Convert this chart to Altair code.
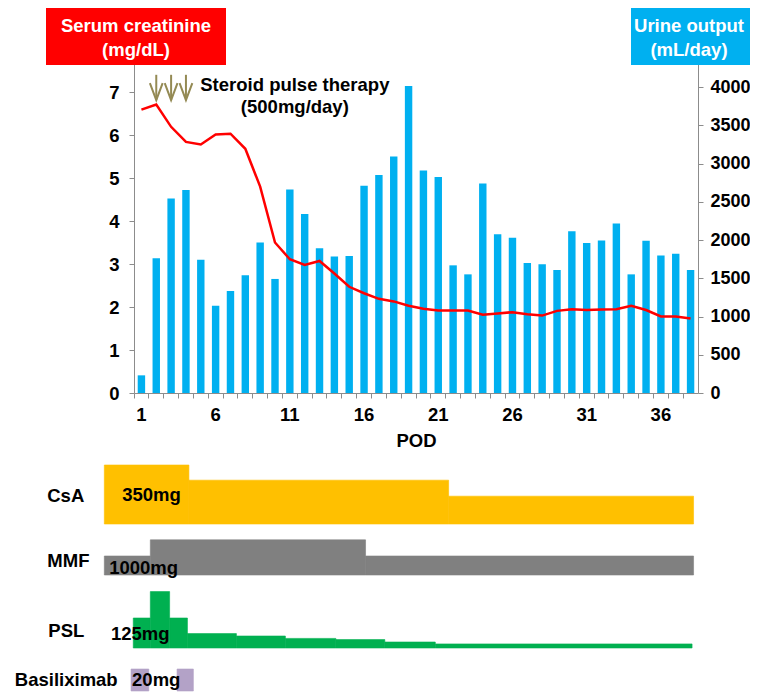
import altair as alt
import pandas as pd

# ---------------- data ----------------
pod = list(range(1, 39))
urine = [231, 1762, 2544, 2654, 1744, 1140, 1335, 1540, 1970, 1492,
         2663, 2341, 1892, 1784, 1792, 2711, 2853, 3093, 4015, 2910,
         2826, 1670, 1552, 2739, 2078, 2030, 1700, 1683, 1609, 2117,
         1961, 1996, 2217, 1552, 1991, 1800, 1822, 1609]
creat = [6.59, 6.71, 6.19, 5.84, 5.78, 6.01, 6.03, 5.68, 4.80, 3.50,
         3.11, 2.98, 3.07, 2.78, 2.47, 2.32, 2.19, 2.13, 2.03, 1.96,
         1.92, 1.92, 1.92, 1.82, 1.85, 1.88, 1.83, 1.80, 1.91, 1.95,
         1.93, 1.94, 1.95, 2.03, 1.93, 1.78, 1.78, 1.73]
x_label_values = [1, 6, 11, 16, 21, 26, 31, 36]
left_ticks = [0, 1, 2, 3, 4, 5, 6, 7]
right_ticks = [0, 500, 1000, 1500, 2000, 2500, 3000, 3500, 4000]
pulse_days = [2, 3, 4]

# drug timelines (day start, day end, relative dose level)
csa_start = [-1.5, 4.2, 21.7]
csa_end = [4.2, 21.7, 38.2]
csa_level = [350, 260, 165]
mmf_start = [-1.5, 1.6, 16.1]
mmf_end = [1.6, 16.1, 38.2]
mmf_level = [1000, 1850, 1000]
psl_start = [0.45, 1.6, 2.9, 4.1, 7.4, 10.7, 14.1, 17.4, 20.8]
psl_end = [1.6, 2.9, 4.1, 7.4, 10.7, 14.1, 17.4, 20.8, 38.1]
psl_level = [125, 235, 125, 60, 50, 40, 35, 25, 17]
bas_start = [0.3, 3.4]
bas_end = [1.5, 4.5]
bas_level = [20, 20]

drug_names = ["CsA", "MMF", "PSL", "Basiliximab"]
drug_colors = ["#FFC000", "#808080", "#00B050", "#B3A2C7"]
dose_labels = ["350mg", "1000mg", "125mg", "20mg"]

# ---------------- style / layout ----------------
F = "Liberation Sans"
FS = 18.5
G = "#8C8C8C"
W, H = 564, 344
HB = 226

df = pd.DataFrame({"pod": pod, "urine": urine, "creat": creat})

axis_common = dict(labelFont=F, labelFontWeight="bold",
                   labelColor="black", domainColor=G, tickColor=G,
                   tickSize=5, grid=False, zindex=0)

x_label_axis = alt.Axis(orient="bottom", values=x_label_values, labelAngle=0,
                        ticks=False, labelPadding=12, labelFontSize=FS,
                        title="POD",
                        titleFont=F, titleFontSize=FS, titleFontWeight="bold",
                        titleColor="black", titlePadding=8, **axis_common)
x_tick_axis = alt.Axis(orient="bottom", labels=False, domain=False, ticks=True,
                       bandPosition=0, title=None, tickSize=5, tickColor=G,
                       grid=False, zindex=0)

xs = alt.Scale(paddingInner=0, paddingOuter=0)

bars = alt.Chart(df).mark_bar(color="#00B0F0", width=alt.RelativeBandSize(0.5)).encode(
    x=alt.X("pod:O", scale=xs, axis=x_label_axis),
    y=alt.Y("urine:Q", scale=alt.Scale(domain=[0, 4500], nice=False),
            axis=alt.Axis(orient="right", values=right_ticks, title=None,
                          format="d", labelPadding=7, labelFontSize=18,
                          **axis_common)),
)

line = alt.Chart(df).mark_line(color="#FF0000", strokeWidth=2.5,
                               interpolate="linear").encode(
    x=alt.X("pod:O", scale=xs, axis=x_tick_axis),
    y=alt.Y("creat:Q", scale=alt.Scale(domain=[0, 8], nice=False),
            axis=alt.Axis(orient="left", values=left_ticks, title=None,
                          labelPadding=10, labelFontSize=FS, **axis_common)),
)

cs = alt.Scale(domain=[0, 8], nice=False)
arrow_df = pd.DataFrame({"pod": pulse_days, "y1": [7.4] * 3, "y2": [6.81] * 3,
                         "yc": [7.01] * 3})
arrow_col = "#948A54"
arrow_shaft = alt.Chart(arrow_df).mark_rule(color=arrow_col, strokeWidth=2).encode(
    x=alt.X("pod:O", scale=xs, axis=None),
    y=alt.Y("y1:Q", scale=cs, axis=None),
    y2="y2:Q",
)
arrow_head = alt.Chart(arrow_df).mark_point(
    shape="M-0.75,-1L0,1L0.75,-1", size=289, filled=False,
    color=arrow_col, strokeWidth=2, opacity=1).encode(
    x=alt.X("pod:O", scale=xs, axis=None),
    y=alt.Y("yc:Q", scale=cs, axis=None),
)

note_df = pd.DataFrame({"pod": [11, 11], "y": [7.16, 6.65],
                        "t": ["Steroid pulse therapy", "(500mg/day)"]})
note = alt.Chart(note_df).mark_text(font=F, fontSize=FS, fontWeight="bold",
                                    color="black", dx=5, baseline="middle").encode(
    x=alt.X("pod:O", scale=xs, axis=None),
    y=alt.Y("y:Q", scale=cs, axis=None),
    text="t:N",
)

one = pd.DataFrame({"a": [0]})
red_box = alt.Chart(one).mark_rect(color="#FF0000").encode(
    x=alt.value(-88), x2=alt.value(92), y=alt.value(-41), y2=alt.value(16))
red_txt = alt.Chart(one).mark_text(
    text=["Serum creatinine", "(mg/dL)"], font=F, fontSize=FS, fontWeight="bold",
    color="white", lineHeight=24, baseline="top").encode(
    x=alt.value(2), y=alt.value(-32))
blue_box = alt.Chart(one).mark_rect(color="#00B0F0").encode(
    x=alt.value(497), x2=alt.value(624), y=alt.value(-41), y2=alt.value(16))
blue_txt = alt.Chart(one).mark_text(
    text=["Urine output", "(mL/day)"], font=F, fontSize=FS, fontWeight="bold",
    color="white", lineHeight=24, baseline="top").encode(
    x=alt.value(555), y=alt.value(-32))

top = alt.layer(bars, line, arrow_shaft, arrow_head, note,
                red_box, red_txt, blue_box, blue_txt).resolve_scale(
    y="independent").resolve_axis(x="independent", y="independent").properties(
    width=W, height=H)

# ---------------- lower drug panel ----------------
baseline = {"CsA": 167, "MMF": 116, "PSL": 43, "Basiliximab": 0}
px_per_unit = {"CsA": 59 / 350, "MMF": 19 / 1000, "PSL": 30 / 125,
               "Basiliximab": 22 / 20}
rows = []
for name, s, e, lv in [("CsA", csa_start, csa_end, csa_level),
                       ("MMF", mmf_start, mmf_end, mmf_level),
                       ("PSL", psl_start, psl_end, psl_level),
                       ("Basiliximab", bas_start, bas_end, bas_level)]:
    for a, b, l in zip(s, e, lv):
        rows.append({"drug": name, "start": a, "end": b,
                     "y0": baseline[name],
                     "y1": baseline[name] + l * px_per_unit[name]})
seg = pd.DataFrame(rows)

bx = alt.Scale(domain=[0.5, 38.5], nice=False, zero=False)
by = alt.Scale(domain=[0, HB], nice=False, zero=False)
dcol = alt.Scale(domain=drug_names, range=drug_colors)

rects = alt.Chart(seg).mark_rect(strokeWidth=0.6).encode(
    x=alt.X("start:Q", scale=bx, axis=None),
    x2="end:Q",
    y=alt.Y("y0:Q", scale=by, axis=None),
    y2="y1:Q",
    fill=alt.Fill("drug:N", scale=dcol, legend=None),
    stroke=alt.Stroke("drug:N", scale=dcol, legend=None),
)

name_df = pd.DataFrame({"t": drug_names, "x": [-2.85, -2.5, -2.85, -0.6],
                        "y": [195, 130, 60, 11]})
names = alt.Chart(name_df).mark_text(font=F, fontSize=FS, fontWeight="bold",
                                     color="black", align="right",
                                     baseline="middle").encode(
    x=alt.X("x:Q", scale=bx, axis=None),
    y=alt.Y("y:Q", scale=by, axis=None),
    text="t:N",
)
dose_df = pd.DataFrame({"t": dose_labels, "x": [-0.3, -1.17, -1.05, 0.37],
                        "y": [196, 123, 57, 11]})
doses = alt.Chart(dose_df).mark_text(font=F, fontSize=FS, fontWeight="bold",
                                     color="black", align="left",
                                     baseline="middle").encode(
    x=alt.X("x:Q", scale=bx, axis=None),
    y=alt.Y("y:Q", scale=by, axis=None),
    text="t:N",
)

bottom = alt.layer(rects, names, doses).properties(width=W, height=HB)

chart = alt.vconcat(top, bottom, spacing=14).properties(
    padding={"left": 6, "top": 0, "right": -8, "bottom": 0}
).configure_view(strokeWidth=0)

chart.save("out.html", embed_options={"renderer": "svg", "actions": False})
